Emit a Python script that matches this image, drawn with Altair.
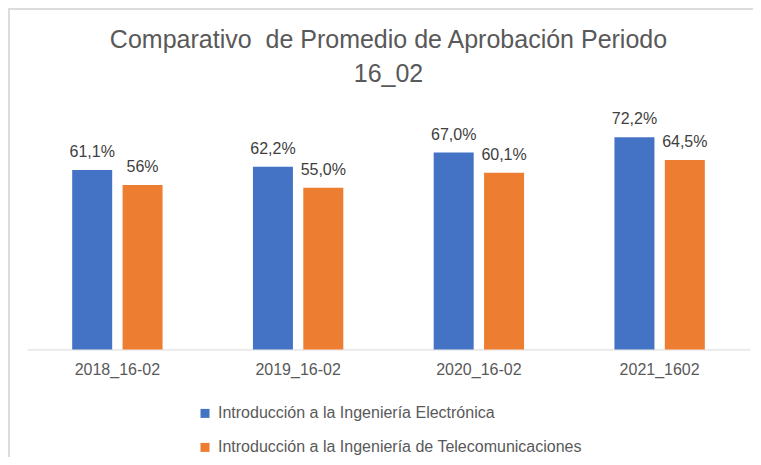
import altair as alt
import pandas as pd

categories = ["2018_16-02", "2019_16-02", "2020_16-02", "2021_1602"]
series = [
    "Introducción a la Ingeniería Electrónica",
    "Introducción a la Ingeniería de Telecomunicaciones",
]
electronica = [61.1, 62.2, 67.0, 72.2]
telecom = [56.0, 55.0, 60.1, 64.5]
electronica_labels = ["61,1%", "62,2%", "67,0%", "72,2%"]
telecom_labels = ["56%", "55,0%", "60,1%", "64,5%"]
colors = ["#4472C4", "#ED7D31"]

rows = []
for vals, labs, s in [(electronica, electronica_labels, series[0]), (telecom, telecom_labels, series[1])]:
    for c, v, l in zip(categories, vals, labs):
        rows.append({"periodo": c, "serie": s, "valor": v, "etiqueta": l})
df = pd.DataFrame(rows)

FONT = "Liberation Sans"

base = alt.Chart(df).encode(
    x=alt.X(
        "periodo:N",
        sort=categories,
        scale=alt.Scale(paddingInner=0.5, paddingOuter=0.25),
        axis=alt.Axis(
            title=None, labelAngle=0, ticks=False, domainColor="#d9d9d9", domainWidth=1,
            labelColor="#595959", labelFontSize=16, labelFont=FONT, labelPadding=12,
        ),
    ),
    xOffset=alt.XOffset("serie:N", sort=series, scale=alt.Scale(paddingInner=0.206, paddingOuter=0)),
    y=alt.Y("valor:Q", scale=alt.Scale(domain=[0, 80]), axis=None),
)

bars = base.mark_bar().encode(
    color=alt.Color(
        "serie:N",
        sort=series,
        scale=alt.Scale(domain=series, range=colors),
        legend=alt.Legend(
            title=None, orient="none", legendX=170, legendY=291, direction="vertical",
            symbolType="square", symbolSize=81, symbolStrokeWidth=0,
            labelFontSize=16, labelColor="#595959", labelFont=FONT, labelLimit=600,
            rowPadding=18, labelOffset=5, padding=0,
        ),
    )
)

labels = base.mark_text(
    baseline="alphabetic", dy=-13, fontSize=16, color="#404040", font=FONT
).encode(text="etiqueta:N")

frame = alt.Chart(pd.DataFrame({"k": [0]}))
border_top = frame.mark_rule(stroke="#dcdcdc", strokeWidth=2).encode(
    x=alt.value(-19), x2=alt.value(1500), y=alt.value(-105.4)
)
border_left = frame.mark_rule(stroke="#dcdcdc", strokeWidth=2).encode(
    x=alt.value(-18), y=alt.value(-106.4), y2=alt.value(1500)
)

chart = alt.layer(border_top, border_left, bars, labels).properties(
    width=723,
    height=235,
    padding={"left": 19, "top": 106.4, "right": 3, "bottom": 107.6},
    autosize=alt.AutoSizeParams(type="none"),
    title=alt.Title(
        ["Comparativo\u00a0 de Promedio de Aprobación Periodo", "16_02"],
        fontSize=25, font=FONT, fontWeight="normal", color="#595959",
        lineHeight=34, anchor="middle", offset=-80,
    ),
).configure_view(stroke=None)

chart.save("out.html", embed_options={"renderer": "svg", "actions": False})
